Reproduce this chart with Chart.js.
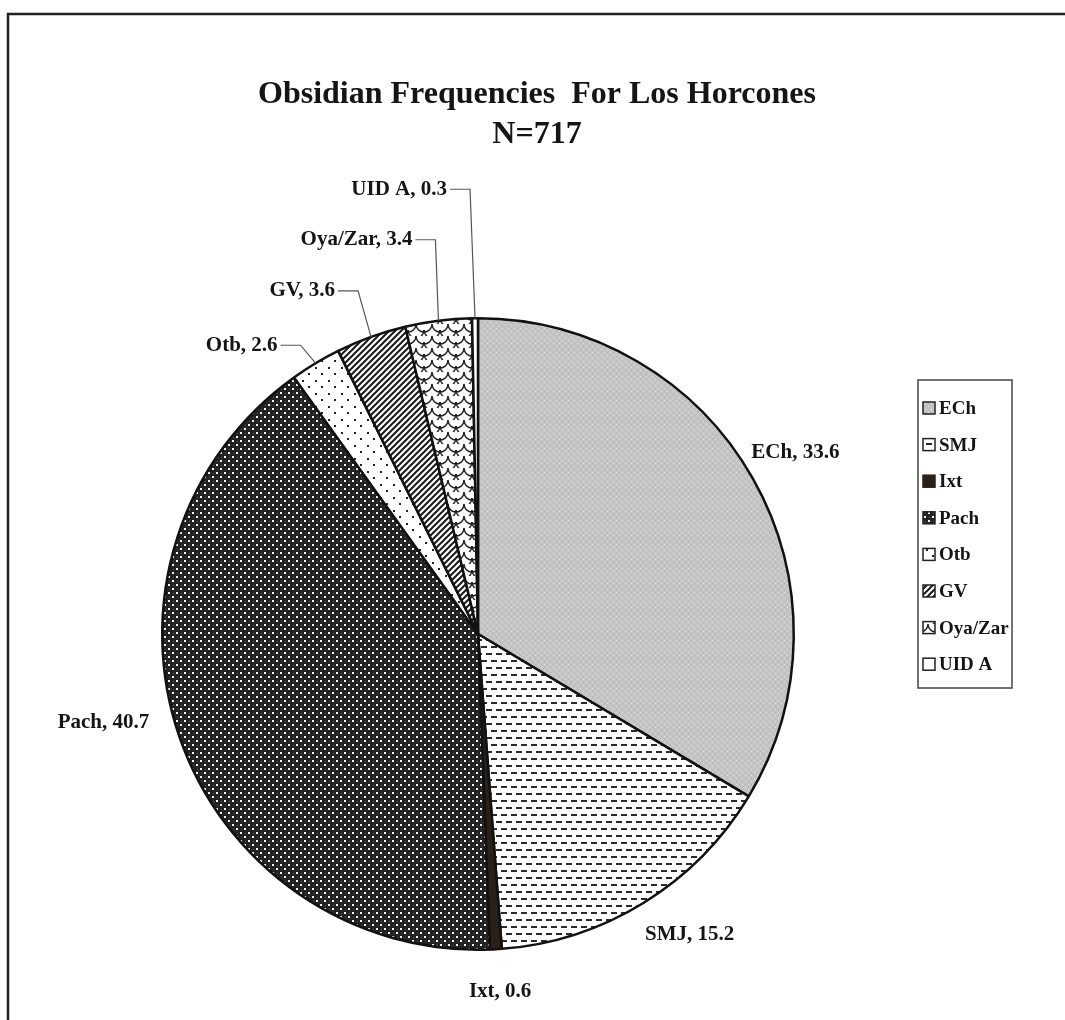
<!DOCTYPE html>
<html>
<head>
<meta charset="utf-8">
<script src="https://cdn.jsdelivr.net/npm/chart.js@4.4.1/dist/chart.umd.min.js"></script>
<style>
  body { margin: 0; background: #fff; }
  canvas { display: block; }
</style>
</head>
<body>
<canvas id="pie" width="1065" height="1020" style="width:1065px;height:1020px"></canvas>
<script>
const categories = ['ECh', 'SMJ', 'Ixt', 'Pach', 'Otb', 'GV', 'Oya/Zar', 'UID A'];
const percents = [33.6, 15.2, 0.6, 40.7, 2.6, 3.6, 3.4, 0.3];
const titleLines = ['Obsidian Frequencies  For Los Horcones', 'N=717'];

const serif = '"Liberation Serif", "Times New Roman", serif';

// little tiles that imitate the old printer fills
function tile(w, h, paint) {
  let c = document.createElement('canvas');
  c.width = w;
  c.height = h;
  let g = c.getContext('2d');
  g.fillStyle = '#fff';
  g.fillRect(0, 0, w, h);
  paint(g);
  return document.createElement('canvas').getContext('2d').createPattern(c, 'repeat');
}

let fills = [
  tile(6, 6, g => {           // ECh grey stipple
    g.fillStyle = '#c4c4c4';
    g.fillRect(0, 0, 6, 6);
    g.fillStyle = '#e2e2e2';
    g.fillRect(1, 1, 1, 1);
    g.fillRect(4, 4, 1, 1);
    g.fillStyle = '#b2b2b2';
    g.fillRect(4, 1, 1, 1);
    g.fillRect(1, 4, 1, 1);
  }),
  tile(10, 14, g => {         // SMJ dashes
    g.fillStyle = '#2a2a2a';
    g.fillRect(1, 2, 6, 2);
    g.fillRect(6, 9, 6, 2);
    g.fillRect(-4, 9, 6, 2);
  }),
  tile(4, 4, g => {           // Ixt solid
    g.fillStyle = '#2b2019';
    g.fillRect(0, 0, 4, 4);
  }),
  tile(8, 8, g => {           // Pach beads
    g.fillStyle = '#222';
    g.fillRect(0, 0, 8, 8);
    g.fillStyle = '#f2f2f2';
    g.fillRect(0, 0, 2, 2);
    g.fillRect(4, 4, 2, 2);
    g.fillStyle = '#5a5a5a';
    g.fillRect(5, 1, 1, 1);
    g.fillRect(1, 5, 1, 1);
  }),
  tile(13, 13, g => {         // Otb sparse dots
    g.fillStyle = '#222';
    g.fillRect(3, 3, 2, 2);
    g.fillRect(9, 9, 2, 2);
  }),
  tile(6, 6, g => {           // GV stripes
    g.strokeStyle = '#1a1a1a';
    g.lineWidth = 2;
    g.beginPath();
    g.moveTo(-1, 7); g.lineTo(7, -1);
    g.moveTo(-4, 4); g.lineTo(4, -4);
    g.moveTo(2, 10); g.lineTo(10, 2);
    g.stroke();
  }),
  tile(16, 12, g => {         // Oya/Zar scales
    g.strokeStyle = '#222';
    g.lineWidth = 1.5;
    g.beginPath();
    g.arc(8, 0, 8, 0, Math.PI);
    g.stroke();
    g.beginPath();
    g.arc(0, 6, 8, 0, Math.PI);
    g.stroke();
    g.beginPath();
    g.arc(16, 6, 8, 0, Math.PI);
    g.stroke();
  }),
  '#ffffff',                  // UID A plain
];

// where each label sits, measured from the rim of its slice
let labelLayout = [
  { dist: 49, dx: 0, dy: -2 },
  { dist: 51, dx: 19, dy: -12 },
  { dist: 40, dx: 2, dy: 2 },
  { dist: 60, dx: -19, dy: -33 },
  { leader: [-15, -18] },
  { leader: [-13, -46] },
  { leader: [-3, -81] },
  { leader: [-5, -129] },
];

let decorations = {
  id: 'decorations',
  beforeDraw(chart) {
    let ctx = chart.ctx;
    ctx.save();
    ctx.fillStyle = '#fff';
    ctx.fillRect(0, 0, chart.width, chart.height);
    ctx.strokeStyle = '#222';
    ctx.lineWidth = 2.5;
    ctx.strokeRect(8, 14, 1200, 1200);

    ctx.fillStyle = '#151515';
    ctx.font = 'bold 32px ' + serif;
    ctx.textAlign = 'center';
    ctx.textBaseline = 'middle';
    titleLines.forEach((t, i) => ctx.fillText(t, 537, 95 + i * 40));
    ctx.restore();
  },
  afterDatasetsDraw(chart) {
    let ctx = chart.ctx;
    let arcs = chart.getDatasetMeta(0).data;
    ctx.save();
    ctx.font = 'bold 21px ' + serif;
    ctx.fillStyle = '#151515';
    ctx.textBaseline = 'middle';
    arcs.forEach((arc, i) => {
      let p = arc.getProps(['x', 'y', 'startAngle', 'endAngle', 'outerRadius'], true);
      let mid = (p.startAngle + p.endAngle) / 2;
      let cx = Math.cos(mid), cy = Math.sin(mid);
      let text = categories[i] + ', ' + percents[i].toFixed(1);
      let lay = labelLayout[i];
      if (lay.leader) {
        let rx = p.x + p.outerRadius * cx, ry = p.y + p.outerRadius * cy;
        let ex = rx + lay.leader[0], ey = ry + lay.leader[1];
        ctx.strokeStyle = '#555';
        ctx.lineWidth = 1.2;
        ctx.beginPath();
        ctx.moveTo(rx, ry);
        ctx.lineTo(ex, ey);
        ctx.lineTo(ex - 20, ey);
        ctx.stroke();
        ctx.textAlign = 'right';
        ctx.fillText(text, ex - 23, ey);
      } else {
        let r = p.outerRadius + lay.dist;
        ctx.textAlign = 'center';
        ctx.fillText(text, p.x + r * cx + lay.dx, p.y + r * cy + lay.dy);
      }
    });

    // legend box
    ctx.strokeStyle = '#444';
    ctx.lineWidth = 1.5;
    ctx.strokeRect(918, 380, 94, 308);
    ctx.font = 'bold 19px ' + serif;
    ctx.textAlign = 'left';
    categories.forEach((c, i) => {
      let y = 408 + i * 36.6;
      ctx.fillStyle = fills[i];
      ctx.fillRect(923, y - 6, 12, 12);
      ctx.strokeStyle = '#222';
      ctx.lineWidth = 1.5;
      ctx.strokeRect(923, y - 6, 12, 12);
      ctx.fillStyle = '#151515';
      ctx.fillText(c, 939, y + 1);
    });
    ctx.restore();
  },
};

new Chart(document.getElementById('pie').getContext('2d'), {
  type: 'pie',
  data: {
    labels: categories,
    datasets: [{
      data: percents,
      backgroundColor: fills,
      borderColor: '#111',
      borderWidth: 2.5,
    }],
  },
  options: {
    responsive: false,
    animation: false,
    devicePixelRatio: 1,
    layout: { padding: { left: 161, right: 270, top: 317, bottom: 69 } },
    plugins: {
      legend: { display: false },
      title: { display: false },
      tooltip: { enabled: false },
    },
  },
  plugins: [decorations],
});
</script>
</body>
</html>
